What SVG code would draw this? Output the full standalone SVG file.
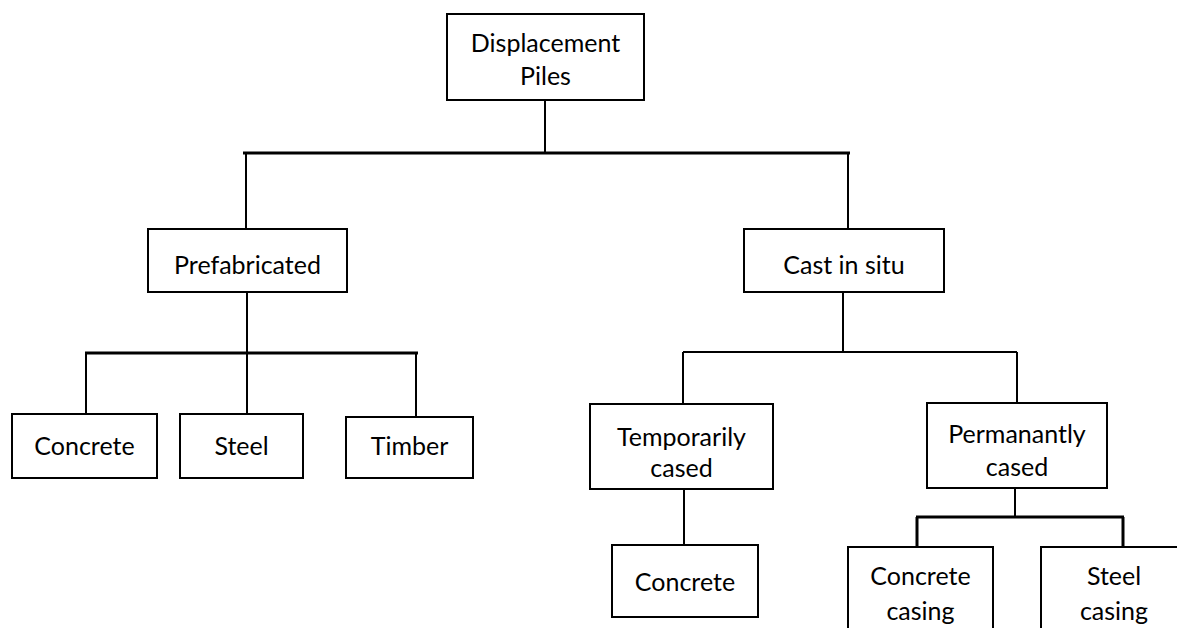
<svg xmlns="http://www.w3.org/2000/svg" width="1177" height="628" viewBox="0 0 1177 628">
<style>
.box{fill:#fff;stroke:#000;stroke-width:2}
.lbl{font-family:Lato,"Open Sans",sans-serif;font-size:25px;fill:#000;text-anchor:middle}
.c{fill:none;stroke:#000;stroke-width:2}
.t{fill:none;stroke:#000;stroke-width:3}
</style>
<rect width="1177" height="628" fill="#fff"/>
<g id="connectors">
<path class="c" d="M545 100V153M246 153V229M848 153V229"/>
<path class="t" d="M243 153H850"/>
<path class="c" d="M247 292V353M86 414V353M247 353V414M416 353V417"/>
<path class="t" d="M85 353H418"/>
<path class="c" d="M843 292V352M683 352H1017M683 352V404M1017 352V403"/>
<path class="c" d="M684 489V545"/>
<path class="c" d="M1015 488V517"/>
<path class="t" d="M916 517H1124M917 517V547M1123 517V547"/>
</g>
<g id="n-displacement"><rect class="box" x="447" y="14" width="197" height="86"/><text class="lbl" x="545.5" y="52">Displacement</text><text class="lbl" x="545.5" y="85">Piles</text></g>
<g id="n-prefabricated"><rect class="box" x="148" y="229" width="199" height="63"/><text class="lbl" x="247.5" y="274">Prefabricated</text></g>
<g id="n-castinsitu"><rect class="box" x="744" y="229" width="200" height="63"/><text class="lbl" x="844" y="274">Cast in situ</text></g>
<g id="n-concrete1"><rect class="box" x="12" y="414" width="145" height="64"/><text class="lbl" x="84.5" y="455">Concrete</text></g>
<g id="n-steel"><rect class="box" x="180" y="414" width="123" height="64"/><text class="lbl" x="241.5" y="455">Steel</text></g>
<g id="n-timber"><rect class="box" x="346" y="417" width="127" height="61"/><text class="lbl" x="409.5" y="455">Timber</text></g>
<g id="n-temporarily"><rect class="box" x="590" y="404" width="183" height="85"/><text class="lbl" x="681.5" y="446">Temporarily</text><text class="lbl" x="681.5" y="477">cased</text></g>
<g id="n-permanantly"><rect class="box" x="927" y="403" width="180" height="85"/><text class="lbl" x="1017" y="443">Permanantly</text><text class="lbl" x="1017" y="476">cased</text></g>
<g id="n-concrete2"><rect class="box" x="612" y="545" width="146" height="72"/><text class="lbl" x="685" y="591">Concrete</text></g>
<g id="n-concretecasing"><rect class="box" x="848" y="547" width="145" height="100"/><text class="lbl" x="920.5" y="585">Concrete</text><text class="lbl" x="920.5" y="620">casing</text></g>
<g id="n-steelcasing"><rect class="box" x="1041" y="547" width="146" height="100"/><text class="lbl" x="1114" y="585">Steel</text><text class="lbl" x="1114" y="620">casing</text></g>
</svg>
